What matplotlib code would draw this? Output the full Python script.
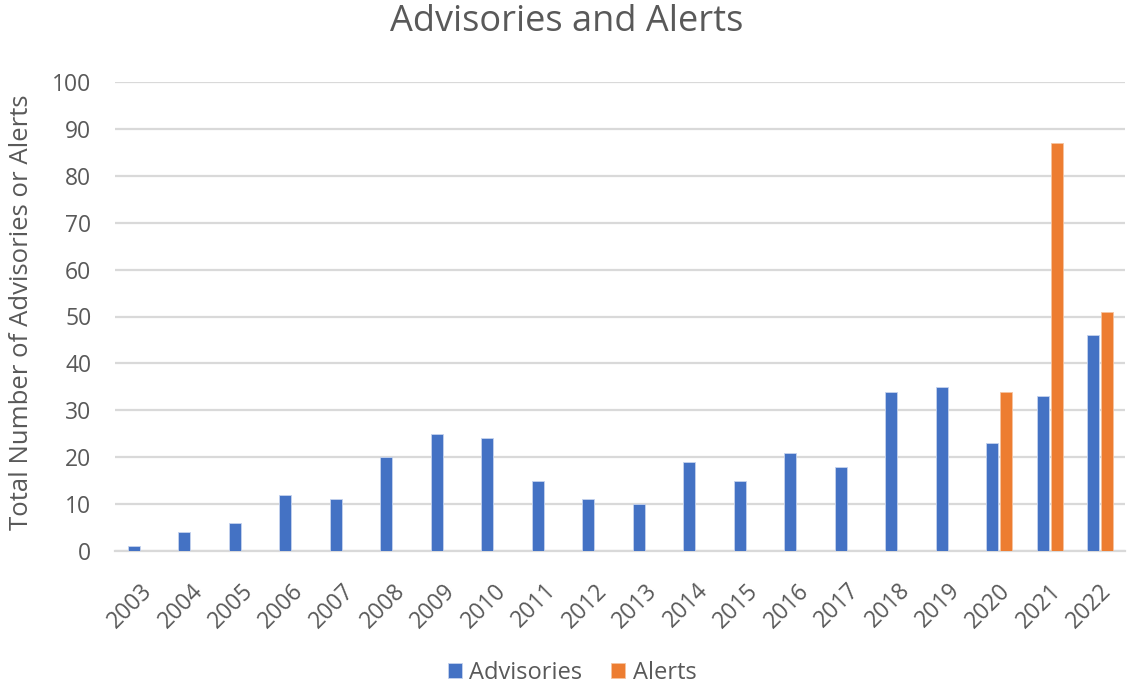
import matplotlib
matplotlib.use("Agg")
import matplotlib.pyplot as plt
import matplotlib.transforms as mtransforms
import numpy as np

years = [str(y) for y in range(2003, 2023)]
advisories = [1, 4, 6, 12, 11, 20, 25, 24, 15, 11, 10, 19, 15, 21, 18, 34, 35, 23, 33, 46]
alerts = [0, 0, 0, 0, 0, 0, 0, 0, 0, 0, 0, 0, 0, 0, 0, 0, 0, 34, 87, 51]
yticks = list(range(0, 101, 10))

plt.rcParams['font.family'] = ['Open Sans', 'DejaVu Sans']
txt = '#595959'
blue = '#4472C4'
orange = '#ED7D31'

fig = plt.figure(figsize=(11.3, 6.85), dpi=100)
ax = fig.add_axes([115/1130, 1-551/685, 1010/1130, 469/685])

x = np.arange(len(years))
w = 0.24
ax.bar(x - 0.13, advisories, width=w, color=blue, edgecolor='#c5d3ee', linewidth=0.6, label='Advisories', zorder=3)
alert_x = [xi for xi, a in zip(x, alerts) if a > 0]
alert_v = [a for a in alerts if a > 0]
ax.bar(np.array(alert_x) + 0.15, alert_v, width=w, color=orange, edgecolor='#f6c3a0', linewidth=0.6, label='Alerts', zorder=3)

ax.set_xlim(-0.5, len(years) - 0.5)
ax.set_ylim(0, 100)
ax.set_yticks(yticks)
ax.set_yticklabels([str(t) for t in yticks], fontsize=16.5, color=txt)
ax.set_xticks(x)
ax.set_xticklabels(years, rotation=45, ha='right', rotation_mode='anchor', fontsize=16.5, color=txt)
shift = mtransforms.ScaledTranslation(-5/100, 0, fig.dpi_scale_trans)
for lab in ax.get_xticklabels():
    lab.set_transform(lab.get_transform() + shift)
ax.tick_params(axis='both', length=0)
ax.tick_params(axis='y', pad=17)
ax.tick_params(axis='x', pad=20)
ax.grid(axis='y', color='#d9d9d9', linewidth=1.6, zorder=0)
for s in ['top', 'right', 'left']:
    ax.spines[s].set_visible(False)
ax.spines['bottom'].set_color('#d9d9d9')
ax.spines['bottom'].set_linewidth(1.6)

fig.text(22/1130, 1-312/685, 'Total Number of Advisories or Alerts', fontsize=18.5, color=txt,
         rotation=90, ha='center', va='center')
fig.text(567/1130, 1-22/685, 'Advisories and Alerts', fontsize=26, color=txt, ha='center', va='center')

leg = fig.legend(loc='center', bbox_to_anchor=(572/1130, 1-673/685), ncol=2, frameon=False,
                 fontsize=17, handlelength=0.62, handleheight=0.62, handletextpad=0.3, columnspacing=1.2)
for t in leg.get_texts():
    t.set_color(txt)

fig.savefig('out.png', dpi=100)
